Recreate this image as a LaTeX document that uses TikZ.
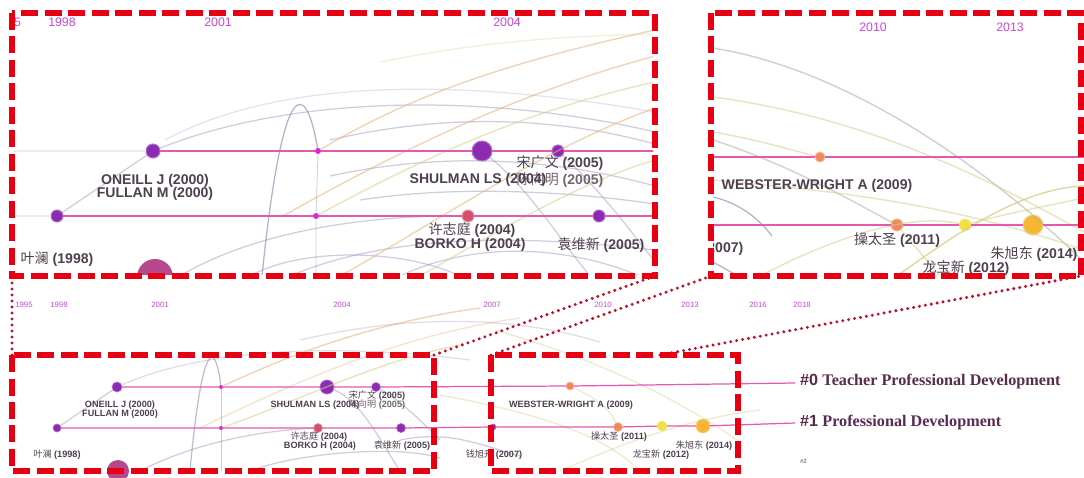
\documentclass[tikz,border=0pt]{standalone}
\usepackage{fontspec}
\setmainfont{Liberation Sans}
\newfontfamily\cjk{Noto Sans CJK SC}
\newfontfamily\tms{Liberation Serif}
\newcommand{\zh}[1]{{\cjk\mdseries #1}}
\definecolor{frame}{HTML}{E60012}
\definecolor{dots}{HTML}{C0102A}
\definecolor{tl}{HTML}{E458B0}
\definecolor{yr}{HTML}{C848DC}
\definecolor{labc}{HTML}{4E404E}
\definecolor{clab}{HTML}{5A2A50}
\definecolor{purp}{HTML}{8A2BB0}
\definecolor{purpr}{HTML}{B56AD6}
\definecolor{mag}{HTML}{D62AD6}
\definecolor{bigm}{HTML}{B8488E}
\definecolor{redn}{HTML}{D2506A}
\definecolor{orn}{HTML}{EE8A5A}
\definecolor{yel}{HTML}{F0E040}
\definecolor{gold}{HTML}{F7B534}
\definecolor{arcp}{HTML}{9A8CB6}
\definecolor{arco}{HTML}{E6B07A}
\definecolor{arcy}{HTML}{D6CE8C}

\begin{document}
\begin{tikzpicture}[x=0.02cm, y=-0.02cm]
	\tikzstyle{every node} = [inner sep=0pt, outer sep=0pt]
	\tikzstyle{pnode} = [circle, fill=purp, draw=purpr, line width=0.6pt]
	\tikzstyle{mnode} = [circle, fill=mag]
	\tikzstyle{rnode} = [circle, fill=redn, draw=redn!60, line width=0.6pt]
	\tikzstyle{onode} = [circle, fill=orn, draw=orn!60, line width=0.6pt]
	\tikzstyle{ynode} = [circle, fill=yel, draw=yel!60, line width=0.6pt]
	\tikzstyle{gnode} = [circle, fill=gold, draw=gold!60, line width=0.6pt]
	\tikzstyle{tline} = [draw=tl, line width=1.1pt]
	\tikzstyle{tlinesm} = [draw=tl, line width=0.7pt]
	\tikzstyle{gline} = [draw=gray!15, line width=1pt]
	\tikzstyle{parc} = [draw=arcp, opacity=0.45, line width=0.7pt]
	\tikzstyle{oarc} = [draw=arco, opacity=0.55, line width=0.8pt]
	\tikzstyle{yarc} = [draw=arcy, opacity=0.55, line width=0.8pt]
	\tikzstyle{lab} = [text=labc, font=\bfseries\fontsize{8}{8}\selectfont]
	\tikzstyle{labsm} = [text=labc, font=\bfseries\fontsize{5.2}{5.2}\selectfont]
	\tikzstyle{year} = [text=yr, font=\fontsize{7}{7}\selectfont]
	\tikzstyle{yearsm} = [text=yr, font=\fontsize{4.4}{4.4}\selectfont]
	\tikzstyle{cluster} = [anchor=west, text=clab, font=\fontsize{9.2}{9.2}\selectfont]
	\tikzstyle{zoombox} = [draw=frame, line width=3.2pt, dash pattern=on 0.34cm off 0.13cm]
	\tikzstyle{zoomline} = [draw=dots, line width=1.9pt, line cap=round, dash pattern=on 0pt off 0.12cm]
	\fill[white] (0,0) rectangle (1084,477);
	\useasboundingbox (0,0) rectangle (1084,477);

	\begin{scope}
		\clip (14,15) rectangle (653,274);
		\node [year, anchor=east] (y95) at (21,22) {1995};
		\node [year] (y98) at (62,22) {1998};
		\node [year] (y01) at (218,22) {2001};
		\node [year] (y04) at (507,22) {2004};
		\node [pnode, minimum size=0.28cm] (A0) at (153,151) {};
		\node [mnode, minimum size=0.12cm] (B0) at (318,151) {};
		\node [pnode, minimum size=0.40cm] (C0) at (482,151) {};
		\node [pnode, minimum size=0.24cm] (D0) at (558,151) {};
		\node [pnode, minimum size=0.24cm] (A1) at (57,216) {};
		\node [mnode, minimum size=0.12cm] (B1) at (316,216) {};
		\node [rnode, minimum size=0.24cm] (C1) at (468,216) {};
		\node [pnode, minimum size=0.24cm] (D1) at (599,216) {};
		\node [circle, fill=bigm, minimum size=0.72cm] (Z0) at (155,277) {};
		\coordinate (e0) at (655,151);
		\coordinate (e1) at (655,216);
		\draw [parc] (A1)--(A0);
		\draw [parc] (A0) .. controls (300,92) and (500,95) .. (655,132);
		\draw [parc, opacity=0.25] (165,140) .. controls (280,78) and (460,78) .. (655,112);
		\draw [parc, opacity=0.7] (262,276) .. controls (283,70) and (306,80) .. (B0);
		\draw [draw=gray!40, line width=0.4pt] (B0)--(B1)--(316,276);
		\draw [parc] (180,276) .. controls (260,228) and (380,215) .. (C1);
		\draw [parc] (250,276) .. controls (300,248) and (400,248) .. (460,276);
		\draw [parc] (290,276) .. controls (380,238) and (500,232) .. (655,250);
		\draw [parc] (C0) .. controls (530,190) and (560,240) .. (590,276);
		\draw [parc] (D0) .. controls (600,190) and (630,230) .. (655,262);
		\draw [parc] (400,276) .. controls (470,243) and (560,243) .. (640,276);
		\draw [parc] (330,140) .. controls (450,112) and (560,118) .. (655,144);
		\draw [parc] (330,176) .. controls (450,150) and (560,160) .. (655,186);
		\draw [parc] (360,200) .. controls (450,186) and (560,190) .. (655,204);
		\draw [oarc] (B0) .. controls (420,90) and (520,60) .. (655,30);
		\draw [oarc] (283,216) .. controls (400,150) and (520,92) .. (655,56);
		\draw [yarc] (B1) .. controls (420,160) and (520,112) .. (655,82);
		\draw [oarc] (340,276) .. controls (440,220) and (540,150) .. (655,108);
		\draw [yarc] (420,276) .. controls (500,230) and (580,182) .. (655,160);
		\draw [yarc, opacity=0.3] (380,62) .. controls (480,42) and (560,36) .. (655,34);
		\draw [gline] (14,151)--(A0);
		\draw [gline] (14,216)--(A1);
		\draw [tline] (A0)--(B0)--(C0)--(D0)--(e0);
		\draw [tline] (A1)--(B1)--(C1)--(D1)--(e1);
		\node [lab] (l1) at (155,181) {ONEILL J (2000)};
		\node [lab] (l2) at (155,194) {FULLAN M (2000)};
		\node [lab] (l3) at (478,180) {SHULMAN LS (2004)};
		\node [lab] (l4) at (560,163) {\zh{宋广文} (2005)};
		\node [lab, opacity=0.8] (l5) at (560,180) {\zh{陈向明} (2005)};
		\node [lab] (l6) at (472,230) {\zh{许志庭} (2004)};
		\node [lab] (l7) at (470,245) {BORKO H (2004)};
		\node [lab] (l8) at (601,245) {\zh{袁维新} (2005)};
		\node [lab] (l9) at (57,259) {\zh{叶澜} (1998)};
	\end{scope}

	\begin{scope}
		\clip (713,15) rectangle (1084,274);
		\node [year] (y10) at (873,27) {2010};
		\node [year] (y13) at (1010,27) {2013};
		\node [onode, minimum size=0.20cm] (E0) at (820,157) {};
		\node [onode, minimum size=0.24cm] (F1) at (897,225) {};
		\node [ynode, minimum size=0.24cm] (G1) at (965,225) {};
		\node [gnode, minimum size=0.40cm] (H1) at (1033,225) {};
		\coordinate (s0) at (713,157);
		\coordinate (s1) at (713,225);
		\coordinate (f0) at (1084,157);
		\coordinate (f1) at (1084,225);
		\draw [yarc, draw=arcp!60!arcy] (713,48) .. controls (850,70) and (990,170) .. (1084,262);
		\draw [yarc] (713,97) .. controls (870,118) and (990,180) .. (1084,232);
		\draw [yarc] (713,132) .. controls (760,140) and (790,150) .. (E0);
		\draw [yarc, draw=arcp!50!arcy] (713,140) .. controls (790,165) and (850,200) .. (F1);
		\draw [yarc] (F1)--(940,276);
		\draw [yarc, opacity=0.8] (897,276) .. controls (950,238) and (1020,188) .. (1084,186);
		\draw [yarc] (760,276) .. controls (810,250) and (900,210) .. (G1);
		\draw [yarc] (G1) .. controls (1000,215) and (1050,205) .. (1084,198);
		\draw [yarc] (713,180) .. controls (820,190) and (940,200) .. (1084,250);
		\draw [parc, opacity=0.7] (713,197) .. controls (740,203) and (760,220) .. (772,236);
		\draw [parc, opacity=0.7] (713,262)--(738,276);
		\draw [tline] (s0)--(E0)--(f0);
		\draw [tline] (s1)--(F1)--(G1)--(H1)--(f1);
		\node [lab] (m1) at (817,186) {WEBSTER-WRIGHT A (2009)};
		\node [lab] (m2) at (897,240) {\zh{操太圣} (2011)};
		\node [lab] (m3) at (966,268) {\zh{龙宝新} (2012)};
		\node [lab] (m4) at (1034,254) {\zh{朱旭东} (2014)};
		\node [lab] (m5) at (700,248) {\zh{钱旭升} (2007)};
	\end{scope}

	\node [yearsm] (z95) at (24,305) {1995};
	\node [yearsm] (z98) at (59,305) {1998};
	\node [yearsm] (z01) at (160,305) {2001};
	\node [yearsm] (z04) at (342,305) {2004};
	\node [yearsm] (z07) at (492,305) {2007};
	\node [yearsm] (z10) at (603,305) {2010};
	\node [yearsm] (z13) at (690,305) {2013};
	\node [yearsm] (z16) at (758,305) {2016};
	\node [yearsm] (z18) at (802,305) {2018};
	\node [pnode, minimum size=0.20cm, line width=0.4pt] (a0) at (117,387) {};
	\node [mnode, minimum size=0.08cm] (b0) at (221,387) {};
	\node [pnode, minimum size=0.28cm, line width=0.4pt] (c0) at (327,387) {};
	\node [pnode, minimum size=0.18cm, line width=0.4pt] (d0) at (376,387) {};
	\node [onode, minimum size=0.16cm, line width=0.4pt] (g0) at (570,386) {};
	\node [pnode, minimum size=0.16cm, line width=0.4pt] (a1) at (57,428) {};
	\node [mnode, minimum size=0.08cm] (b1) at (221,428) {};
	\node [rnode, minimum size=0.18cm, line width=0.4pt] (c1) at (318,428) {};
	\node [pnode, minimum size=0.18cm, line width=0.4pt] (d1) at (401,428) {};
	\node [pnode, minimum size=0.12cm, line width=0.4pt] (k1) at (493,427) {};
	\node [onode, minimum size=0.18cm, line width=0.4pt] (f1b) at (618,427) {};
	\node [ynode, minimum size=0.20cm, line width=0.4pt] (g1) at (662,426) {};
	\node [gnode, minimum size=0.28cm, line width=0.4pt] (h1) at (703,426) {};
	\node [circle, fill=bigm, minimum size=0.44cm] (zb) at (118,471) {};
	\coordinate (t0) at (795,383);
	\coordinate (t1) at (795,423);
	\draw [parc] (a1)--(a0);
	\draw [parc, opacity=0.3] (a0) .. controls (200,350) and (330,342) .. (470,360);
	\draw [parc, opacity=0.6] (190,471) .. controls (203,330) and (216,345) .. (b0);
	\draw [draw=gray!40, line width=0.3pt] (b0)--(b1)--(221,471);
	\draw [oarc] (b0) .. controls (300,350) and (380,322) .. (480,308);
	\draw [oarc, opacity=0.35] (200,428) .. controls (300,380) and (400,335) .. (520,318);
	\draw [yarc] (b1) .. controls (300,400) and (380,360) .. (460,345);
	\draw [parc] (140,471) .. controls (200,440) and (270,430) .. (c1);
	\draw [parc] (250,471) .. controls (300,452) and (400,445) .. (440,458);
	\draw [parc] (c0) .. controls (360,400) and (380,440) .. (400,471);
	\draw [parc] (d0) .. controls (400,400) and (420,420) .. (440,440);
	\draw [parc, opacity=0.3] (300,340) .. controls (420,312) and (520,318) .. (600,342);
	\draw [parc] (400,440) .. controls (450,430) and (480,445) .. (520,456);
	\draw [yarc, opacity=0.4] (495,330) .. controls (600,360) and (680,400) .. (740,442);
	\draw [yarc, opacity=0.4] (560,471) .. controls (620,445) and (680,420) .. (760,410);
	\draw [yarc, opacity=0.4] (g0) .. controls (600,400) and (610,410) .. (f1b);
	\draw [yarc, opacity=0.4] (440,395) .. controls (520,410) and (600,430) .. (640,471);
	\draw [tlinesm] (a0)--(b0)--(c0)--(d0)--(g0)--(t0);
	\draw [tlinesm] (a1)--(b1)--(c1)--(d1)--(k1)--(f1b)--(g1)--(h1)--(t1);
	\node [labsm] (n1) at (120,405) {ONEILL J (2000)};
	\node [labsm] (n2) at (120,414) {FULLAN M (2000)};
	\node [labsm] (n3) at (315,405) {SHULMAN LS (2004)};
	\node [labsm] (n4) at (377,396) {\zh{宋广文} (2005)};
	\node [labsm, opacity=0.8] (n5) at (377,405) {\zh{陈向明} (2005)};
	\node [labsm] (n6) at (319,437) {\zh{许志庭} (2004)};
	\node [labsm] (n7) at (320,446) {BORKO H (2004)};
	\node [labsm] (n8) at (402,446) {\zh{袁维新} (2005)};
	\node [labsm] (n9) at (57,455) {\zh{叶澜} (1998)};
	\node [labsm] (n10) at (571,405) {WEBSTER-WRIGHT A (2009)};
	\node [labsm] (n11) at (619,437) {\zh{操太圣} (2011)};
	\node [labsm] (n12) at (661,455) {\zh{龙宝新} (2012)};
	\node [labsm] (n13) at (704,446) {\zh{朱旭东} (2014)};
	\node [labsm] (n14) at (494,455) {\zh{钱旭升} (2007)};
	\node [cluster] (c0lab) at (800,382) {{\bfseries\#0} {\tms\bfseries Teacher Professional Development}};
	\node [cluster] (c1lab) at (800,423) {{\bfseries\#1} {\tms\bfseries Professional Development}};
	\node [cluster, font=\fontsize{3.5}{3.5}\selectfont, opacity=0.6] (c2lab) at (800,461) {\bfseries\#2};

	\coordinate (p1) at (12,276);
	\coordinate (q1) at (12,355);
	\coordinate (p2) at (655,276);
	\coordinate (q2) at (434,355);
	\coordinate (p3) at (711,276);
	\coordinate (q3) at (491,355);
	\coordinate (p4) at (1081,276);
	\coordinate (q4) at (660,355);
	\draw [zoomline] (q1)--(p1);
	\draw [zoomline] (q2)--(p2);
	\draw [zoomline] (q3)--(p3);
	\draw [zoomline] (q4)--(p4);
	\draw [zoombox] (12,13) rectangle (655,276);
	\draw [zoombox] (711,13) rectangle (1081,276);
	\draw [zoombox] (12,355) rectangle (434,471);
	\draw [zoombox] (491,355) rectangle (738,471);
\end{tikzpicture}
\end{document}
